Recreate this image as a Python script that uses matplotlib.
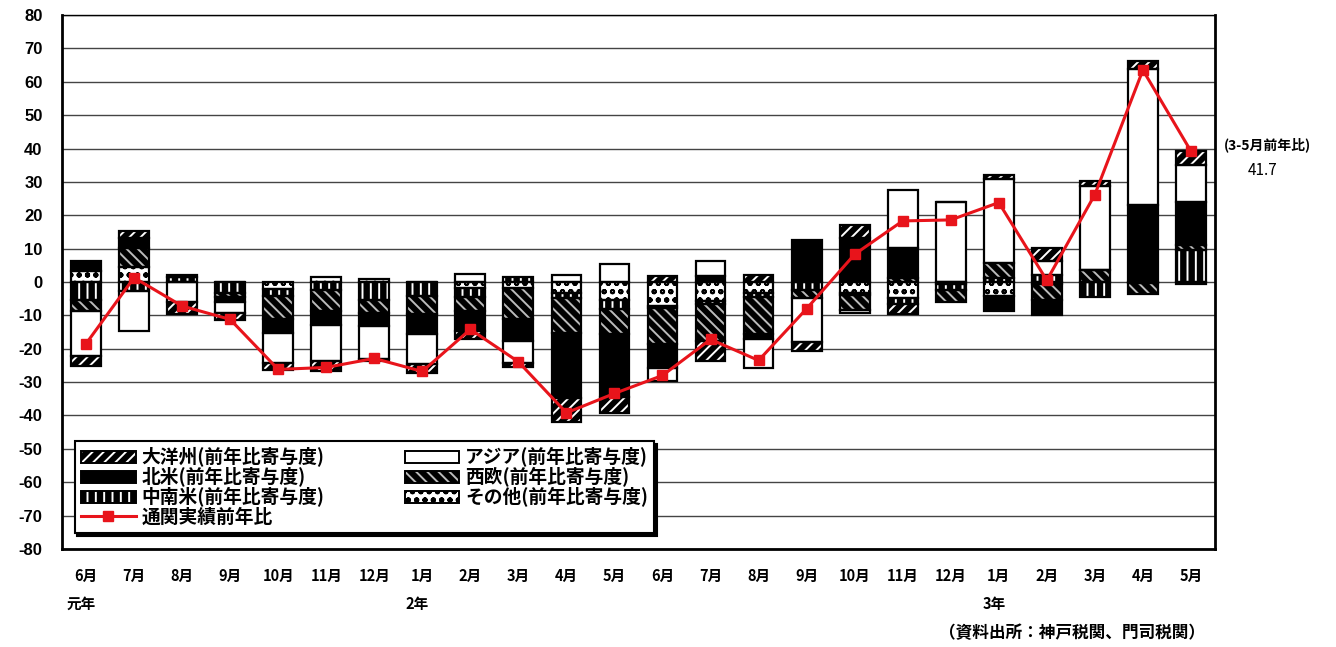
import numpy as np
import matplotlib
matplotlib.use("Agg")
import matplotlib.pyplot as plt
import matplotlib.transforms as mtransforms
from matplotlib.patches import Patch
from matplotlib.legend_handler import HandlerTuple

plt.rcParams["font.family"] = ["Noto Sans CJK JP", "DejaVu Sans"]
plt.rcParams["hatch.linewidth"] = 1.4

# x categories (months) and year labels
months = ["6月", "7月", "8月", "9月", "10月", "11月", "12月", "1月", "2月", "3月", "4月", "5月",
          "6月", "7月", "8月", "9月", "10月", "11月", "12月", "1月", "2月", "3月", "4月", "5月"]
year_labels = {0: "元年", 7: "2年", 19: "3年"}

# contributions (前年比寄与度), stacked from zero outward in this order
sonota = [3.2, 4.4, 0, 0, -2.2, 1.4, 1.0, 0, -1.8, -1.9, -3.2, -5.5,
          -7.2, -5.7, -3.2, 0, -3.2, -4.7, -0.5, -4.2, -0.5, 0, 0, -0.7]
chunanbei = [-5.3, -2.7, 1.5, -3.2, -2.0, -2.3, -5.3, -4.2, -2.7, 1.4, -1.5, -2.5,
             -0.5, -1.0, -1.3, -2.3, -0.8, -2.0, -1.8, 1.2, 2.2, -4.6, -0.4, 9.5]
seio = [-3.5, 5.7, 0, -1.2, -7.0, -6.5, -3.9, -5.5, -4.2, -9.3, -10.5, -7.5,
        -11.0, -11.0, -11.2, -2.5, -4.5, 1.2, -3.8, 4.5, -5.0, 3.5, -3.2, 1.5]
hokubei = [3.2, 3.0, 0.7, -1.5, -4.0, -4.0, -4.0, -6.0, -6.0, -6.5, -19.5, -19.0,
           -7.0, 1.7, -1.5, 12.7, 13.2, 9.0, 0, -4.5, -4.5, 0, 23.2, 13.0]
asia = [-13.4, -12.1, -6.0, -3.3, -9.0, -10.8, -10.0, -9.0, 2.5, -6.5, 2.2, 5.5,
        -4.0, 4.5, -8.5, -13.3, -0.7, 17.5, 24.0, 25.3, 4.2, 25.2, 40.5, 11.0]
taiyoshu = [-3.0, 2.2, -3.7, -2.3, -2.3, -3.0, -0.6, -2.5, -2.5, -1.4, -7.2, -4.8,
            1.7, -6.1, 2.2, -2.6, 3.8, -2.8, 0, 1.0, 3.8, 1.5, 2.5, 4.2]

# 通関実績前年比 (%)
total = [-18.5, 1.3, -7.2, -11.2, -26.2, -25.6, -22.9, -26.8, -14.2, -23.9, -39.2, -33.4,
         -28.0, -17.2, -23.5, -8.0, 8.3, 18.3, 18.6, 23.8, 0.5, 26.2, 63.5, 39.2]

# (label, values, face, hatch, hatch colour) in stacking order
series = [
    ("その他(前年比寄与度)", sonota, "white", "oo", "black"),
    ("中南米(前年比寄与度)", chunanbei, "black", "||", "white"),
    ("西欧(前年比寄与度)", seio, "black", "\\\\\\", "#bbbbbb"),
    ("北米(前年比寄与度)", hokubei, "black", None, "black"),
    ("アジア(前年比寄与度)", asia, "white", None, "white"),
    ("大洋州(前年比寄与度)", taiyoshu, "black", "///", "white"),
]

fig = plt.figure(figsize=(13.36, 6.47), dpi=100)
ax = fig.add_axes([0.0464, 0.1515, 0.8630, 0.8253])

x = np.arange(len(months))
width = 0.62
pos_base = np.zeros(len(x))
neg_base = np.zeros(len(x))
handles = {}
for label, vals, face, hatch, hcol in series:
    v = np.array(vals, dtype=float)
    bottom = np.where(v >= 0, pos_base, neg_base)
    ax.bar(x, v, width, bottom=bottom, color=face, edgecolor=hcol,
           hatch=hatch, linewidth=0, zorder=2)
    ax.bar(x, v, width, bottom=bottom, fill=False, edgecolor="black",
           linewidth=1.6, zorder=3)
    pos_base += np.clip(v, 0, None)
    neg_base += np.clip(v, None, 0)
    handles[label] = (Patch(facecolor=face, edgecolor=hcol, hatch=hatch, linewidth=0),
                      Patch(fill=False, edgecolor="black", linewidth=1.4))

line, = ax.plot(x, total, color="#e8141b", linewidth=2.2, marker="s",
                markersize=7, zorder=5)

ax.set_xlim(-0.5, len(x) - 0.5)
ax.set_ylim(-80, 80)
ax.set_yticks(np.arange(-80, 81, 10))
ax.set_yticklabels([str(t) for t in range(-80, 81, 10)],
                   family="Liberation Sans", fontweight="bold", fontsize=12)
ax.set_xticks(x)
ax.set_xticklabels(months, fontsize=10.5, fontweight="bold")
ax.tick_params(axis="both", length=0)
ax.tick_params(axis="x", pad=14)
ax.tick_params(axis="y", pad=14)
ax.yaxis.grid(True, color="#444444", linewidth=1.0)
ax.set_axisbelow(True)
for side in ["left", "right", "bottom", "top"]:
    ax.spines[side].set_linewidth(2.0)
    ax.spines[side].set_color("black")
ax.spines["top"].set_linewidth(1.0)

trans = mtransforms.blended_transform_factory(ax.transData, ax.transAxes)
for i, yl in year_labels.items():
    ax.text(i - 0.1, -0.103, yl, transform=trans, ha="center", va="center",
            fontsize=10.5, fontweight="bold")

order = ["大洋州(前年比寄与度)", "北米(前年比寄与度)", "中南米(前年比寄与度)", None,
         "アジア(前年比寄与度)", "西欧(前年比寄与度)", "その他(前年比寄与度)"]
leg_handles, leg_labels = [], []
for name in order:
    if name is None:
        leg_handles.append(line)
        leg_labels.append("通関実績前年比")
    else:
        leg_handles.append(handles[name])
        leg_labels.append(name)
leg = ax.legend(leg_handles, leg_labels, ncol=2, loc="lower left",
                bbox_to_anchor=(0.011, 0.03), borderaxespad=0,
                handler_map={tuple: HandlerTuple(ndivide=1)},
                prop={"family": ["Noto Sans CJK JP", "DejaVu Sans"], "size": 13.5,
                      "weight": "bold"},
                handlelength=2.9, handleheight=0.6, labelspacing=0.0,
                columnspacing=4.3, handletextpad=0.3, borderpad=0.35,
                fancybox=False, edgecolor="black", framealpha=1,
                shadow={"color": "black", "alpha": 1})
leg.get_frame().set_linewidth(1.5)
leg.set_zorder(10)

fig.text(0.949, 0.776, "(3-5月前年比)", ha="center", va="center", fontsize=10, fontweight="bold")
fig.text(0.945, 0.737, "41.7", ha="center", va="center", fontsize=11)
fig.text(0.902, 0.022, "（資料出所：神戸税関、門司税関）", ha="right", va="center",
         fontsize=12, fontweight="bold")

fig.savefig("out.png", dpi=100, facecolor="white")
